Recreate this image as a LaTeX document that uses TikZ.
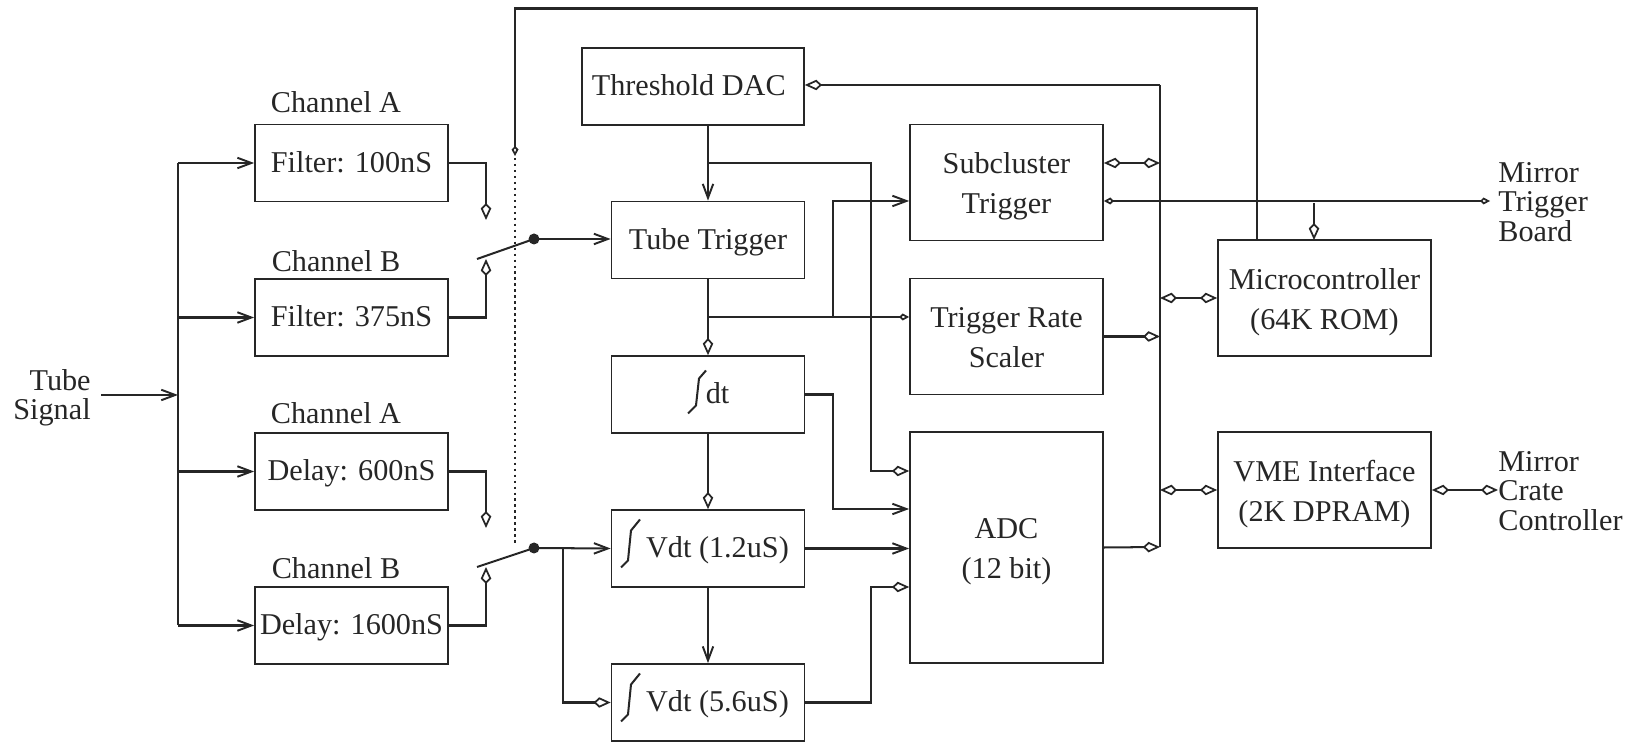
\documentclass[tikz,border=0pt]{standalone}
\usepackage{fontspec}
\usepackage{tikz}
\setmainfont{Liberation Serif}
\usetikzlibrary{positioning, arrows.meta, calc}
\definecolor{myInk}{RGB}{38,38,38}
\newcommand{\twolines}[2]{\rule{0pt}{17pt}#1\\#2\rule[-4pt]{0pt}{4pt}}
\tikzset{
  kt/.tip={Kite[open, length=0.34cm, width=0.21cm, inset=0.11cm, line width=1pt]},
  vt/.tip={Straight Barb[length=0.28cm, width=0.21cm, line width=1.1pt]},
  st/.tip={Kite[open, length=0.20cm, width=0.14cm, inset=0.07cm, line width=1pt]},
}
\begin{document}
\begin{tikzpicture}[
  x=0.02cm, y=-0.02cm,
  blk/.style={draw=myInk, line width=1pt, text=myInk, minimum width=3.86cm, minimum height=1.54cm,
    inner sep=0pt, align=center, font=\fontsize{17.2}{22.8}\selectfont},
  oneblk/.style={blk, text height=12.4pt, text depth=1.6pt},
  tallblk/.style={blk, minimum height=2.32cm},
  lbl/.style={text=myInk, inner sep=0pt, align=center, font=\fontsize{17.2}{16.8}\selectfont},
  sig/.style={draw=myInk, line width=1.15pt},
]
  \useasboundingbox (0,0) rectangle (1633,742);

  % left column
  \node[lbl, align=right, anchor=east] (tubesig) at (91,398) {Tube\\Signal};
  \node[oneblk] (filta) at (351.5,163) {Filter: 100nS};
  \node[oneblk] (filtb) at (351.5,317.5) {Filter: 375nS};
  \node[oneblk] (dela) at (351.5,471.5) {Delay: 600nS};
  \node[oneblk] (delb) at (351.5,625.5) {Delay: 1600nS};
  \node[lbl] (cha) at (336,102) {Channel A};
  \node[lbl] (chb) at (336,261) {Channel B};
  \node[lbl] (chc) at (336,413) {Channel A};
  \node[lbl] (chd) at (336,568) {Channel B};

  % middle column
  \node[oneblk, minimum width=4.44cm] (thdac) at (693,86.5) {\hspace*{-0.17cm}Threshold DAC};
  \node[oneblk] (tubetrig) at (708,240) {Tube Trigger};
  \node[oneblk] (intdt) at (708,394.5) {\hspace{0.38cm}dt};
  \node[oneblk] (vdta) at (708,548.5) {\hspace{0.38cm}Vdt (1.2uS)};
  \node[oneblk] (vdtb) at (708,702.5) {\hspace{0.38cm}Vdt (5.6uS)};

  % right columns
  \node[tallblk] (subcl) at (1006.5,182.5) {\twolines{Subcluster}{Trigger}};
  \node[tallblk] (rate) at (1006.5,336.5) {\twolines{Trigger Rate}{Scaler}};
  \node[blk, minimum height=4.62cm] (adc) at (1006.5,547.5) {\twolines{ADC}{(12 bit)}};
  \node[tallblk, minimum width=4.26cm] (micro) at (1324.5,298) {\twolines{Microcontroller}{(64K ROM)}};
  \node[tallblk, minimum width=4.26cm] (vme) at (1324.5,490) {\twolines{VME Interface}{(2K DPRAM)}};
  \node[lbl, align=left, anchor=west] (trigbrd) at (1498,202) {Mirror\\Trigger\\Board};
  \node[lbl, align=left, anchor=west] (cratectl) at (1498,491) {Mirror\\Crate\\Controller};

  % switches
  \coordinate (swa) at (534,239);
  \coordinate (swb) at (534,548);
  \coordinate (swaend) at (477,259);
  \coordinate (swbend) at (477,567);
  \fill[myInk] (swa) circle (0.11cm);
  \fill[myInk] (swb) circle (0.11cm);
  \draw[sig] (swa) -- (swaend);
  \draw[sig] (swb) -- (swbend);

  % integral signs
  \draw[sig] ($(intdt)+(-20,19)$) -- ++(8,-8) -- ++(3,-27) -- ++(7,-8);
  \foreach \n in {vdta,vdtb}
    \draw[sig] ($(\n)+(-87,19)$) -- ++(7,-7) -- ++(3,-30) -- ++(9,-11);

  % input fan out
  \coordinate (fanin) at (178,395);
  \coordinate (fanstart) at (101,395);
  \draw[sig, -{vt}] (fanstart) -- (fanin);
  \draw[sig] (fanin |- filta) -- (fanin |- delb);
  \foreach \n in {filta,filtb,dela,delb}
    \draw[sig, -{vt}] (fanin |- \n) -- (\n.west);

  % channels into switches
  \draw[sig, -{kt}] (filta.east) -| (486,220);
  \draw[sig, -{kt}] (filtb.east) -| (486,259);
  \draw[sig, -{kt}] (dela.east) -| (486,528);
  \draw[sig, -{kt}] (delb.east) -| (486,567);
  \draw[sig, -{vt}] (swa) -- (tubetrig.west |- swa);
  \draw[sig, -{vt}] (swb) -- (vdta.west);
  \draw[sig, -{kt}] (563,548) |- (vdtb.west);

  % feedback from micro, dotted to the switches
  \draw[sig, -{st}] (micro.north -| 1257,0) -- (1257,8.5) -- (515,8.5) -- (515,156);
  \draw[myInk, line width=1.4pt, dotted] (515,158) -- (515,545);

  % middle column links
  \draw[sig, -{vt}] (thdac.south -| tubetrig) -- (tubetrig.north);
  \draw[sig, -{kt}] (tubetrig.south) -- (intdt.north);
  \draw[sig, -{kt}] (intdt.south) -- (vdta.north);
  \draw[sig, -{vt}] (vdta.south) -- (vdtb.north);
  \draw[sig, -{kt}] (707,163) -| (871,471) -- (adc.west |- 0,471);
  \draw[sig, -{st}] (707,317) -- (rate.west |- 0,317);
  \draw[sig, -{vt}] (833,317) |- (subcl.west |- 0,201);
  \draw[sig, -{vt}] (intdt.east) -| (833,509) -- (adc.west |- 0,509);
  \draw[sig, -{vt}] (vdta.east) -- (adc.west |- vdta);
  \draw[sig, -{kt}] (vdtb.east) -| (871,587) -- (adc.west |- 0,587);

  % bus on the right
  \coordinate (bustop) at (1160,85);
  \coordinate (busbot) at (1160,547);
  \draw[sig] (bustop) -- (busbot);
  \draw[sig, -{kt}] (bustop) -- (thdac.east |- bustop);
  \draw[sig, {kt}-{kt}] (subcl.east |- 0,163) -- (bustop |- 0,163);
  \draw[sig, {st}-{st}] (subcl.east |- 0,201) -- (1490,201);
  \draw[sig, -{kt}] (1314,203) -- (1314,240);
  \draw[sig, {kt}-{kt}] (bustop |- micro) -- (micro.west);
  \draw[sig, -{kt}] (rate.east) -- (bustop |- rate);
  \draw[sig, {kt}-{kt}] (bustop |- vme) -- (vme.west);
  \draw[sig, -{kt}] (adc.east) -- (busbot);
  \draw[sig, {kt}-{kt}] (vme.east) -- (cratectl.west |- vme);
\end{tikzpicture}
\end{document}
